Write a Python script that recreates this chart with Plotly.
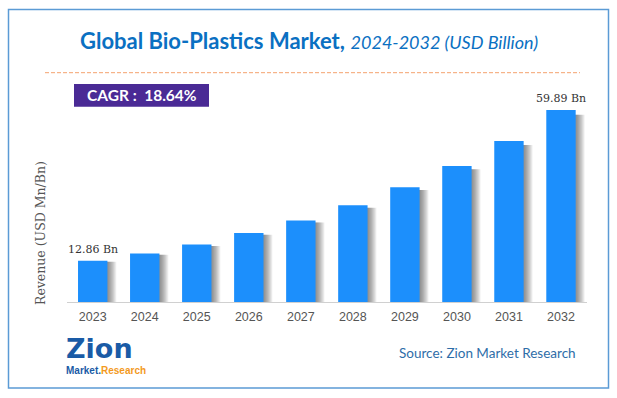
import plotly.graph_objects as go

# ---- data ----
years = ["2023", "2024", "2025", "2026", "2027", "2028", "2029", "2030", "2031", "2032"]
revenue = [12.86, 15.13, 17.93, 21.52, 25.42, 30.16, 35.78, 42.42, 50.22, 59.89]
first_label = "12.86 Bn"
last_label = "59.89 Bn"
cagr_text = "CAGR :  18.64%"
title_main = "Global Bio-Plastics Market,"
title_sub = "2024-2032 (USD Billion)"
y_title = "Revenue (USD Mn/Bn)"
source_text = "Source: Zion Market Research"

W, H = 617, 398
def px(x):
    return x / W
def py(y):
    return 1 - y / H

BAR_W = 0.565
BAR_OFF = -BAR_W / 2
YMAX = 63.0
CAT_PX = (587 - 66.7) / len(years)

fig = go.Figure()

# soft gradient shadow (drawn on primary y, slightly compressed so it sits a bit lower)
for k in range(1, 9):
    fig.add_trace(go.Bar(
        x=years, y=revenue, width=BAR_W, offset=BAR_OFF + k * 1.1 / CAT_PX,
        marker=dict(color="rgba(50,50,50,0.085)", line=dict(width=0)),
        hoverinfo="skip", showlegend=False, xaxis="x", yaxis="y"))

# main bars
fig.add_trace(go.Bar(
    x=years, y=revenue, width=BAR_W, offset=BAR_OFF,
    marker=dict(color="#1C8FFC", line=dict(width=0)),
    showlegend=False, xaxis="x", yaxis="y2"))

fig.update_layout(
    width=W, height=H,
    margin=dict(l=0, r=0, t=0, b=0, autoexpand=False),
    paper_bgcolor="white", plot_bgcolor="white",
    barmode="overlay",
    xaxis=dict(type="category", categoryorder="array", categoryarray=years,
               range=[-0.5, len(years) - 0.5],
               domain=[px(66.7), px(587)], showgrid=False, zeroline=False,
               showline=True, linecolor="#D0D0D0", linewidth=1,
               ticks="", ticklabelstandoff=3,
               tickfont=dict(family="Liberation Sans", size=12.5, color="#555555"),
               fixedrange=True),
    yaxis=dict(domain=[py(302), py(100)], range=[0, YMAX * 1.025], visible=False,
               showgrid=False, zeroline=False, fixedrange=True),
    yaxis2=dict(domain=[py(302), py(100)], range=[0, YMAX], visible=False,
                overlaying="y", anchor="x", showgrid=False, zeroline=False, fixedrange=True),
)

# value labels
fig.add_annotation(x=0, y=revenue[0], xref="x", yref="y2", text=first_label,
                   showarrow=False, yanchor="bottom", yshift=3,
                   font=dict(family="DejaVu Serif", size=11, color="#333333"))
fig.add_annotation(x=len(years) - 1, y=revenue[-1], xref="x", yref="y2", text=last_label,
                   showarrow=False, yanchor="bottom", yshift=3,
                   font=dict(family="DejaVu Serif", size=11, color="#333333"))

# title
fig.add_annotation(x=0.5, y=py(41), xref="paper", yref="paper", showarrow=False,
                   xanchor="center", yanchor="middle",
                   text=f"<b>{title_main}</b> <i><span style='font-size:18px'>{title_sub}</span></i>",
                   font=dict(family="Lato", size=22, color="#0A70C2"))

# CAGR box
fig.add_shape(type="rect", xref="paper", yref="paper",
              x0=px(74), x1=px(209), y0=py(106.7), y1=py(84),
              fillcolor="#4A2A95", line=dict(width=0))
fig.add_annotation(x=px(141.5), y=py(95.5), xref="paper", yref="paper", showarrow=False,
                   text=f"<b>{cagr_text}</b>", xanchor="center", yanchor="middle",
                   font=dict(family="Lato", size=15.5, color="white"))

# dashed separator
fig.add_shape(type="line", xref="paper", yref="paper",
              x0=px(45), x1=px(580), y0=py(72.7), y1=py(72.7),
              line=dict(color="#F4A26E", width=1, dash="4px,2px"))

# outer border
fig.add_shape(type="rect", xref="paper", yref="paper",
              x0=px(8.5), x1=px(608.5), y0=py(388), y1=py(9.5),
              line=dict(color="#5B9BD5", width=1.5))

# y-axis title
fig.add_annotation(x=px(40), y=py(233), xref="paper", yref="paper", showarrow=False,
                   text=y_title, textangle=-90, xanchor="center", yanchor="middle",
                   font=dict(family="DejaVu Serif", size=12.5, color="#555555"))

# source
fig.add_annotation(x=px(578), y=py(353), xref="paper", yref="paper", showarrow=False,
                   text=source_text, xanchor="right", yanchor="middle",
                   font=dict(family="Lato", size=13.5, color="#2E6DA8"))

# logo (text rendition)
fig.add_annotation(x=px(64), y=py(348), xref="paper", yref="paper", showarrow=False,
                   text="<b>Zion</b>", xanchor="left", yanchor="middle",
                   font=dict(family="DejaVu Sans", size=27, color="#1A5BA6"))
fig.add_annotation(x=px(64), y=py(370), xref="paper", yref="paper", showarrow=False,
                   text="<b>Market.<span style='color:#F39A1E'>Research</span></b>",
                   xanchor="left", yanchor="middle",
                   font=dict(family="Liberation Sans", size=10, color="#1A5BA6"))

fig.write_html("out.html", config={"displayModeBar": False},
               post_script="document.body.style.margin='0';")
